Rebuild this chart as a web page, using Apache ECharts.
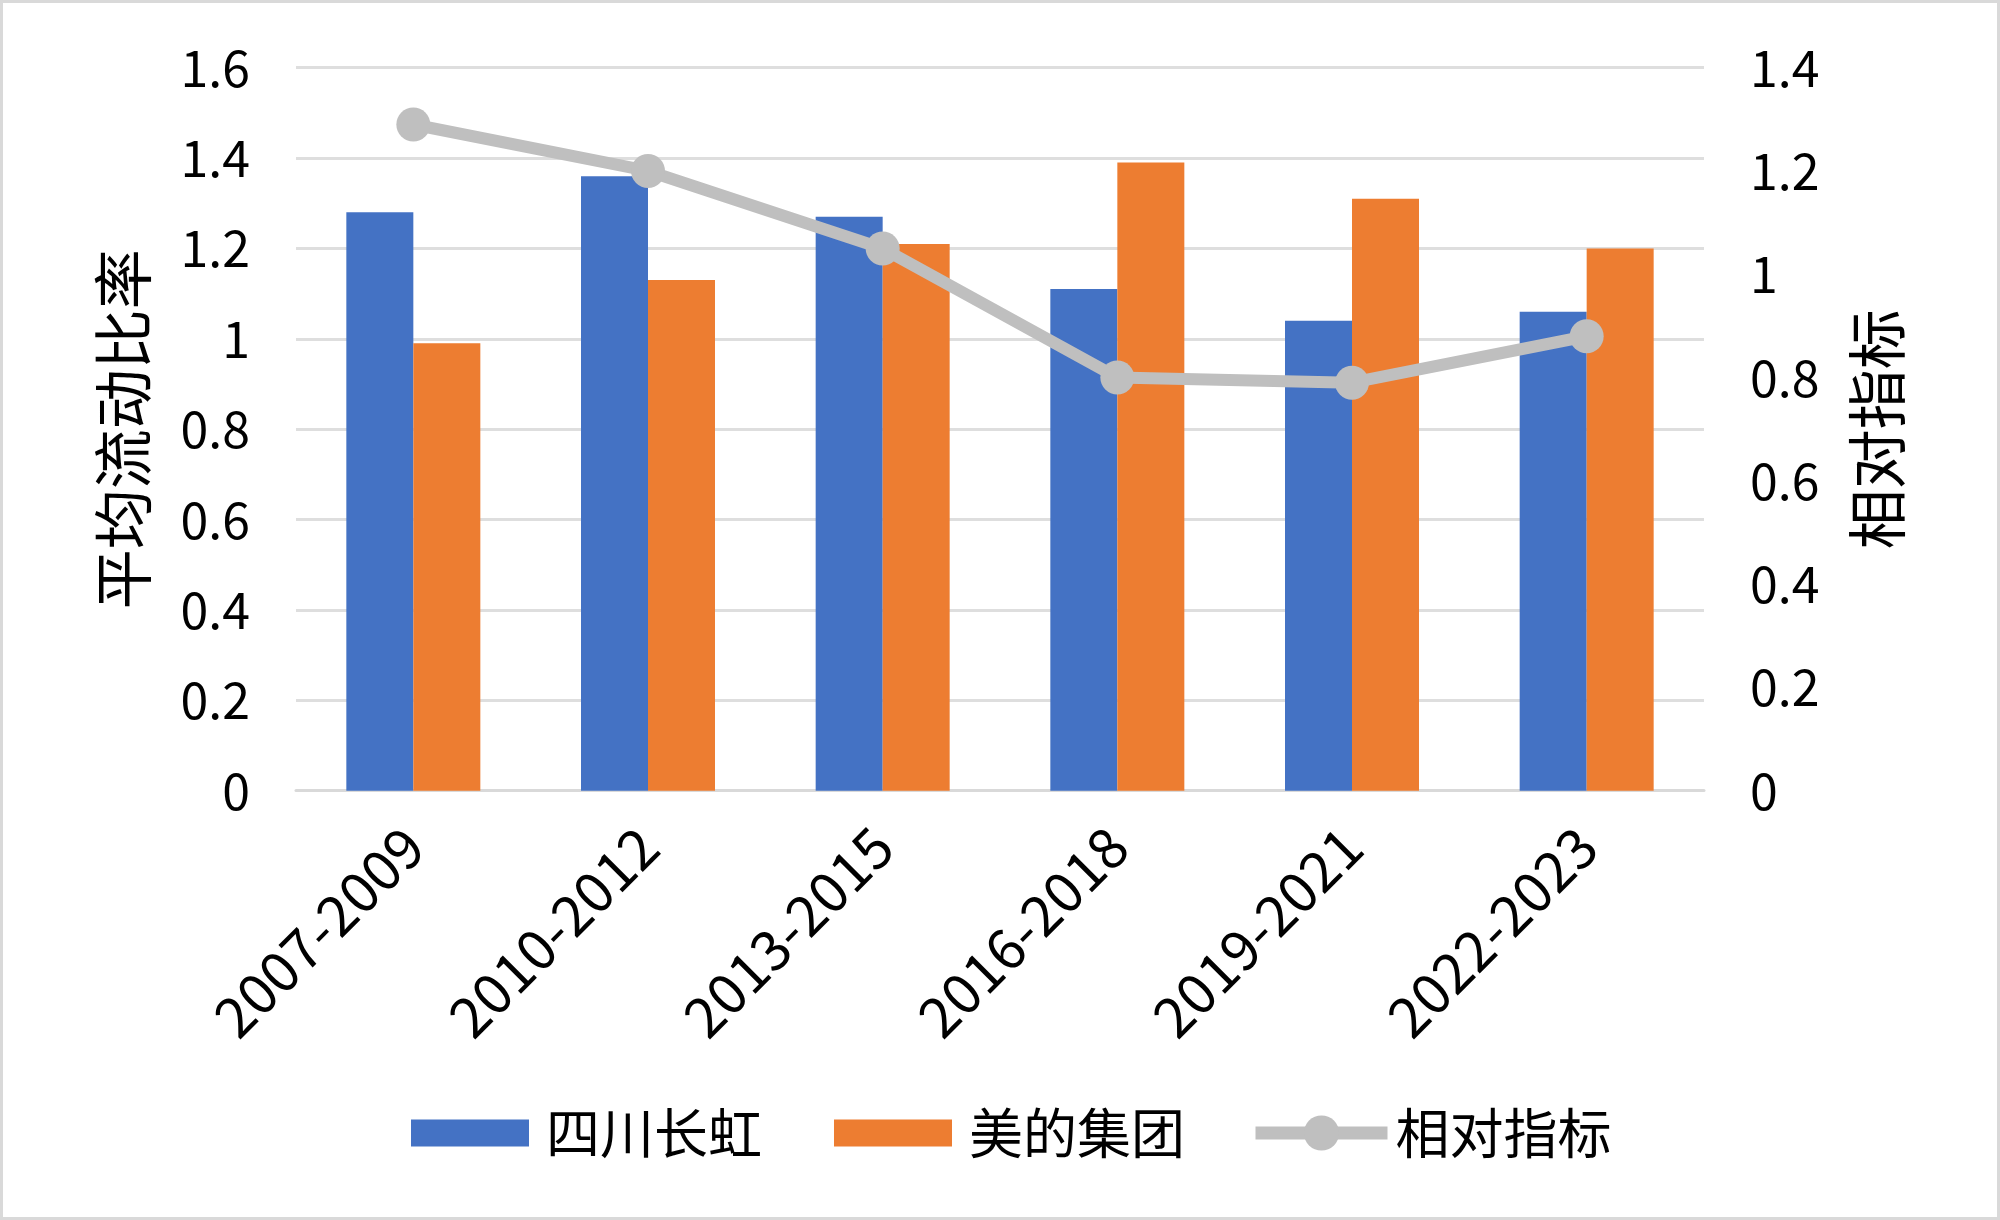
<!DOCTYPE html>
<html>
<head>
<meta charset="utf-8">
<script src="https://cdn.jsdelivr.net/npm/echarts@6/dist/echarts.min.js"></script>
<style>
html,body{margin:0;padding:0;background:#fff;}
#chart{width:2000px;height:1220px;}
</style>
</head>
<body>
<div id="chart"></div>
<script>
const categories = ['2007-2009','2010-2012','2013-2015','2016-2018','2019-2021','2022-2023'];
const changhong = [1.28, 1.36, 1.27, 1.11, 1.04, 1.06];
const midea = [0.99, 1.13, 1.21, 1.39, 1.31, 1.20];
const relative = [1.29, 1.20, 1.05, 0.80, 0.79, 0.88];
const leftAxisName = '平均流动比率';
const rightAxisName = '相对指标';
const seriesNames = ['四川长虹','美的集团','相对指标'];

const FONT = '"Noto Sans CJK SC", "Noto Sans", sans-serif';
const chart = echarts.init(document.getElementById('chart'));
chart.setOption({
  backgroundColor: '#ffffff',
  animation: false,
  textStyle: { fontFamily: FONT },
  graphic: [{
    type: 'rect', silent: true, z: -1,
    shape: { x: 1.5, y: 1.5, width: 1997, height: 1217 },
    style: { fill: 'none', stroke: '#d9d9d9', lineWidth: 3 }
  }],
  grid: { left: 296, right: 296, top: 67.7, bottom: 429.3 },
  legend: [{
    data: [seriesNames[0], seriesNames[1]],
    left: 406, top: 1098,
    itemWidth: 118, itemHeight: 27, itemGap: 72,
    icon: 'rect',
    textStyle: { fontFamily: FONT, fontSize: 54, color: '#000', lineHeight: 60, padding: [0,0,0,12] }
  }, {
    data: [seriesNames[2]],
    left: 1244, top: 1098,
    itemWidth: 132, itemHeight: 44,
    lineStyle: { width: 13 },
    textStyle: { fontFamily: FONT, fontSize: 54, color: '#000', lineHeight: 60, padding: [0,0,0,3] }
  }],
  xAxis: {
    type: 'category',
    data: categories,
    axisTick: { show: false },
    axisLine: { lineStyle: { color: '#d9d9d9', width: 3 } },
    axisLabel: { interval: 0, rotate: 45, margin: 46, color: '#000', fontFamily: FONT, fontSize: 56 }
  },
  yAxis: [{
    type: 'value', min: 0, max: 1.6, interval: 0.2,
    name: leftAxisName, nameLocation: 'middle', nameRotate: 90, nameGap: 143,
    nameTextStyle: { fontFamily: FONT, fontSize: 60, color: '#000' },
    axisLine: { show: false }, axisTick: { show: false },
    axisLabel: { margin: 46, color: '#000', fontFamily: FONT, fontSize: 50 },
    splitLine: { lineStyle: { color: '#dedede', width: 3 } }
  }, {
    type: 'value', min: 0, max: 1.4, interval: 0.2,
    name: rightAxisName, nameLocation: 'middle', nameRotate: 90, nameGap: 143,
    nameTextStyle: { fontFamily: FONT, fontSize: 60, color: '#000' },
    axisLine: { show: false }, axisTick: { show: false },
    axisLabel: { margin: 46, color: '#000', fontFamily: FONT, fontSize: 50 },
    splitLine: { show: false }
  }],
  series: [{
    name: seriesNames[0], type: 'bar', data: changhong,
    barWidth: 67, barGap: '0%',
    itemStyle: { color: '#4472c4' }
  }, {
    name: seriesNames[1], type: 'bar', data: midea,
    barWidth: 67, barGap: '0%',
    itemStyle: { color: '#ed7d31' }
  }, {
    name: seriesNames[2], type: 'line', yAxisIndex: 1, data: relative,
    symbol: 'circle', symbolSize: 34,
    lineStyle: { color: '#bfbfbf', width: 12 },
    itemStyle: { color: '#bfbfbf' },
    z: 5
  }]
});
</script>
</body>
</html>
